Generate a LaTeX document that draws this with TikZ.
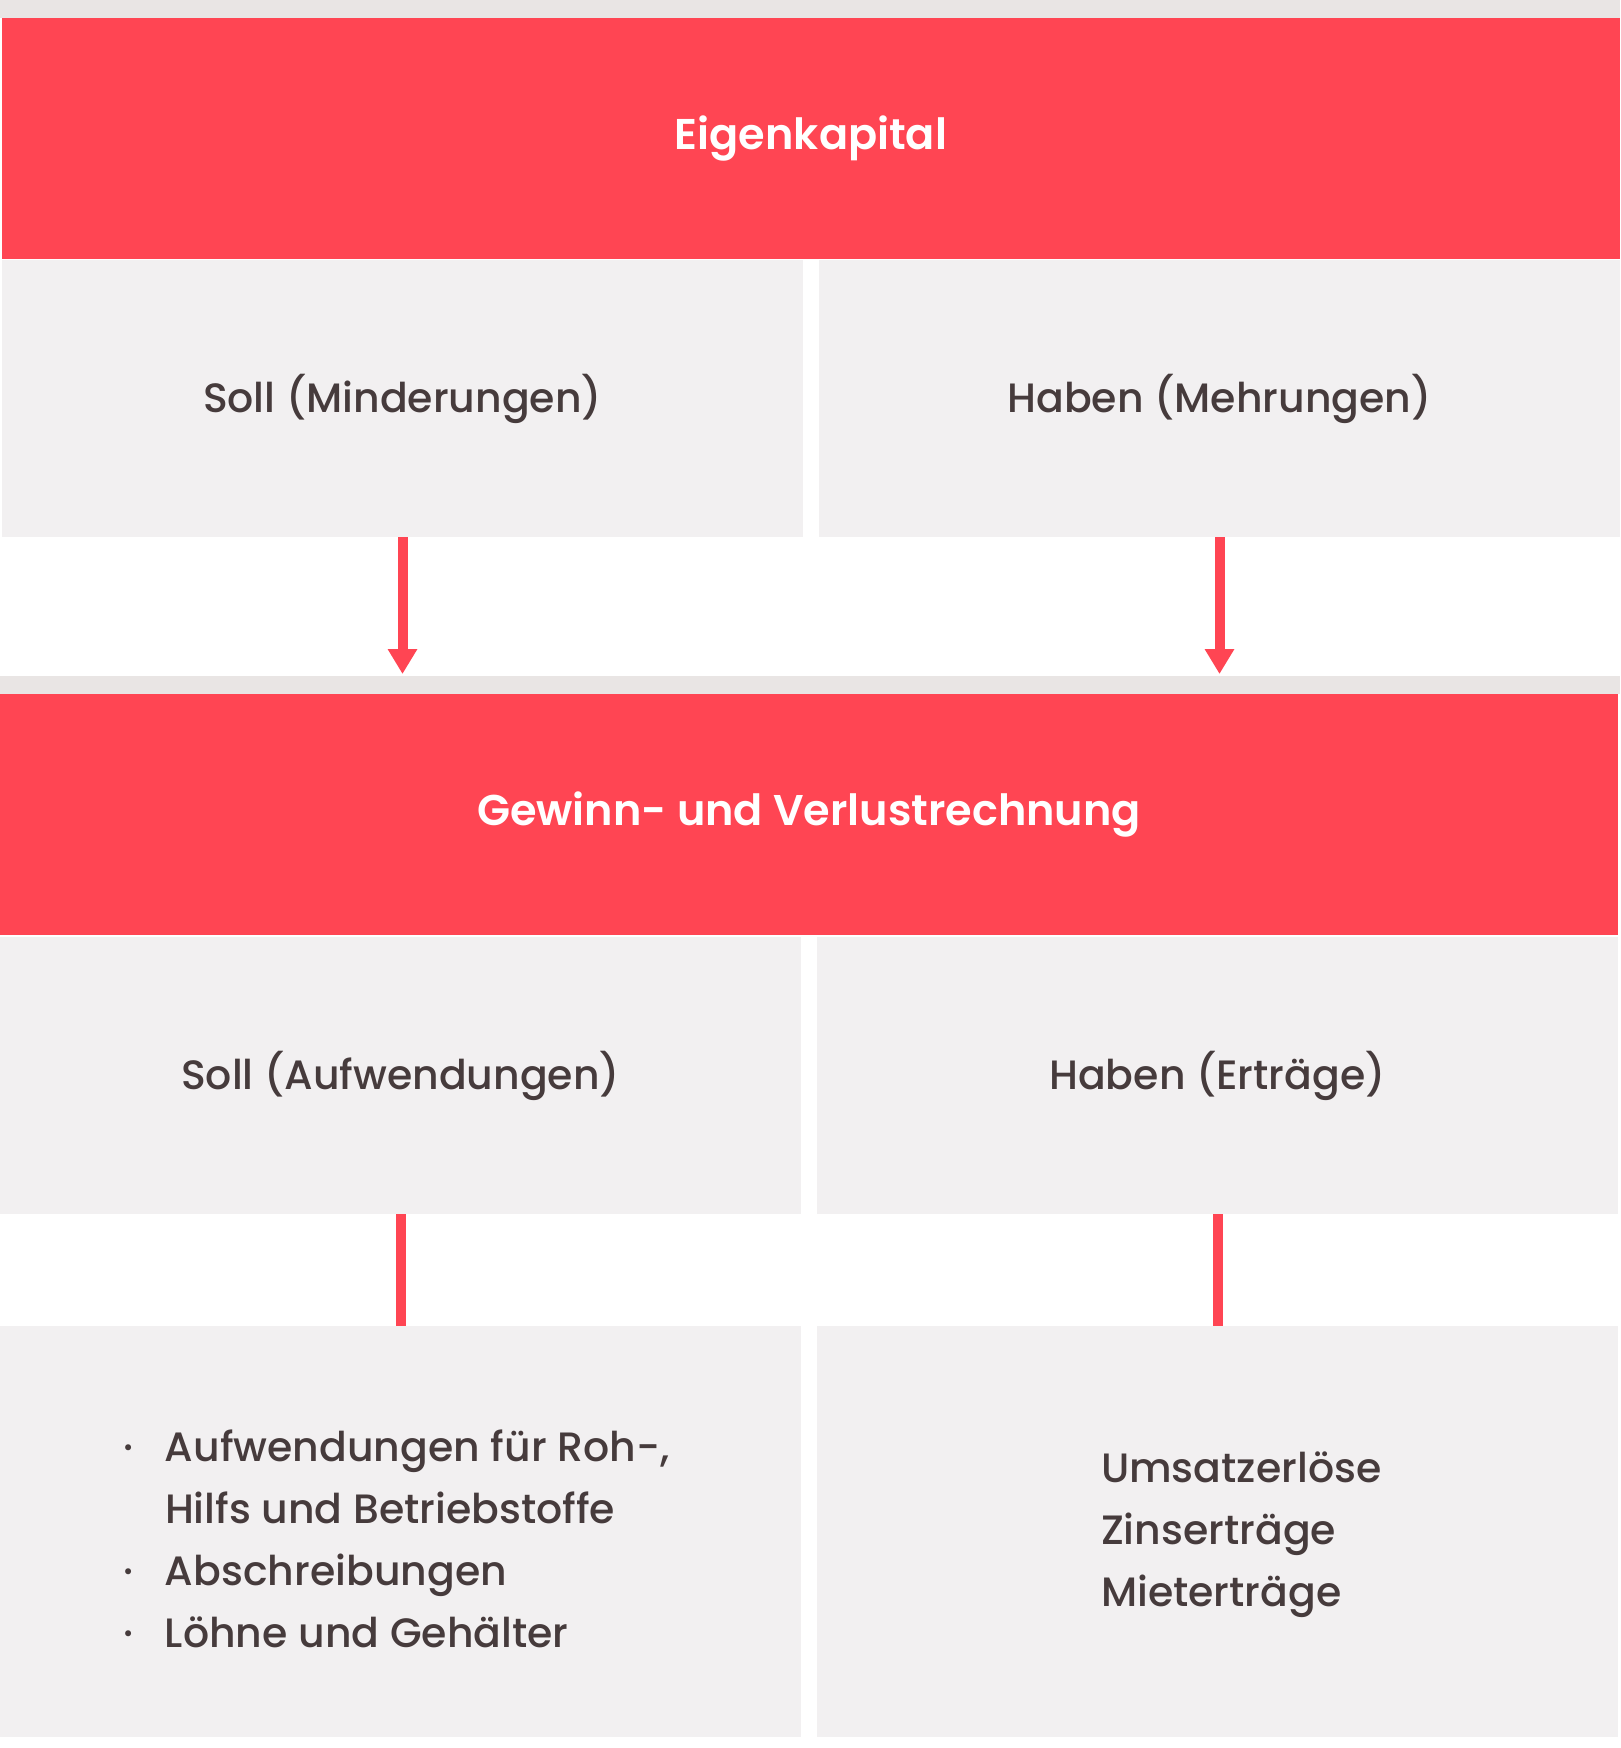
\documentclass[tikz,border=0pt]{standalone}
\usepackage{fontspec}
\setmainfont{Poppins}[UprightFont={* Medium}, BoldFont={* SemiBold}]
\usetikzlibrary{arrows.meta}
\definecolor{ekred}{HTML}{FF4553}
\definecolor{boxgray}{HTML}{F2F0F1}
\definecolor{bandgray}{HTML}{E9E5E4}
\definecolor{txt}{HTML}{463B3C}
\tikzset{
  blk/.style={rectangle, inner sep=0pt, outer sep=0pt, draw=none, anchor=north west},
  band/.style={blk, fill=bandgray, minimum height=18pt},
  redband/.style={blk, fill=ekred, minimum height=241pt, text=white,
    font=\fontsize{43}{50}\selectfont\bfseries},
  graybox/.style={blk, fill=boxgray, minimum width=801pt, text=txt,
    font=\fontsize{41}{50}\selectfont},
  listtext/.style={inner sep=0pt, outer sep=0pt, text=txt, anchor=base west,
    font=\fontsize{41}{62}\selectfont},
  arr/.style={draw=ekred, line width=10pt, -{Triangle[width=28pt,length=25pt]}},
  conn/.style={draw=ekred, line width=10pt}
}
\begin{document}
\begin{tikzpicture}[x=1pt,y=-1pt]
\useasboundingbox[fill=white] (0,0) rectangle (1620,1748);
% top
\node[band, minimum width=1620pt] (band1) at (0,0) {};
\node[redband, minimum width=1618pt] (ek) at (2,18) {Eigenkapital};
\node[graybox, minimum height=277pt] (sm) at (2,260) {Soll (Minderungen)};
\node[graybox, minimum height=277pt] (hm) at (819,260) {Haben (Mehrungen)};
% middle
\node[band, minimum width=1620pt] (band2) at (0,676) {};
\node[redband, minimum width=1618pt] (guv) at (0,694) {Gewinn- und Verlustrechnung};
\node[graybox, minimum height=277pt] (sa) at (0,937) {Soll (Aufwendungen)};
\node[graybox, minimum height=277pt] (he) at (817,937) {Haben (Erträge)};
% bottom
\node[graybox, minimum height=411pt] (la) at (0,1326) {};
\node[graybox, minimum height=411pt] (le) at (817,1326) {};
\node[listtext] (llist) at (123,1461) {\begin{tabular}[t]{@{}l@{}l@{}}
\makebox[42pt][l]{·} & Aufwendungen für Roh-,\\
 & Hilfs und Betriebstoffe\\
\makebox[42pt][l]{·} & Abschreibungen\\
\makebox[42pt][l]{·} & Löhne und Gehälter
\end{tabular}};
\node[listtext] (rlist) at (1101,1482) {\begin{tabular}[t]{@{}l@{}}
Umsatzerlöse\\
Zinserträge\\
Mieterträge
\end{tabular}};
% connectors
\draw[arr, shorten >=2pt] (sm.south) -- (sm.south |- band2.north);
\draw[arr, shorten >=2pt] (hm.south) -- (hm.south |- band2.north);
\draw[conn] (sa.south) -- (la.north);
\draw[conn] (he.south) -- (le.north);
\end{tikzpicture}
\end{document}
